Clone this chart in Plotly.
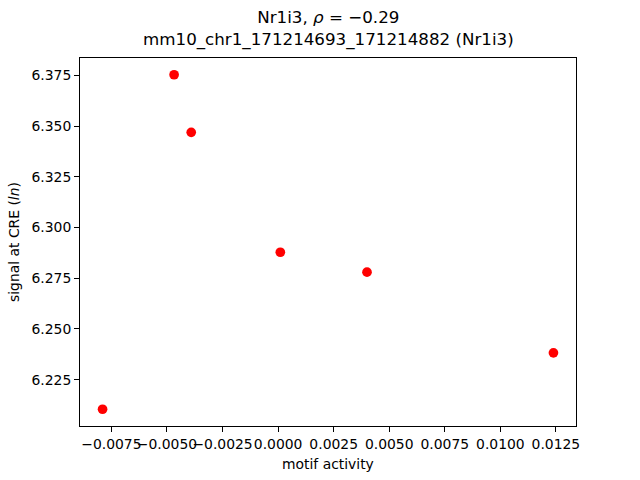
import plotly.graph_objects as go

motif_activity = [-0.0079, -0.00468, -0.00391, 0.0001, 0.0040, 0.01239]
signal = [6.2104, 6.3753, 6.3469, 6.2878, 6.2780, 6.2382]

x_ticks = [-0.0075, -0.0050, -0.0025, 0.0, 0.0025, 0.0050, 0.0075, 0.0100, 0.0125]
y_ticks = [6.225, 6.250, 6.275, 6.300, 6.325, 6.350, 6.375]
x_ticktext = [f"{v:.4f}".replace("-", "\u2212") for v in x_ticks]
y_ticktext = [f"{v:.3f}" for v in y_ticks]

title_line1 = "Nr1i3, <i>ρ</i> = \u22120.29"
title_line2 = "mm10_chr1_171214693_171214882 (Nr1i3)"
x_label = "motif activity"
y_label = "signal at CRE (<i>ln</i>)"

def padded(vals, frac=0.05):
    lo, hi = min(vals), max(vals)
    m = (hi - lo) * frac
    return [lo - m, hi + m]

FONT = "DejaVu Sans"
fig = go.Figure(go.Scatter(
    x=motif_activity, y=signal, mode="markers",
    marker=dict(color="red", size=9.7, line=dict(width=0)),
))

axis_common = dict(
    showgrid=False, zeroline=False, showline=True, linecolor="black", linewidth=1,
    mirror=True, ticks="outside", ticklen=4.9, tickwidth=1, tickcolor="black",
    tickangle=0,
    tickfont=dict(family=FONT, size=13.9, color="black"),
)
fig.update_xaxes(range=padded(motif_activity), tickvals=x_ticks, ticktext=x_ticktext, **axis_common)
fig.update_yaxes(range=padded(signal), tickvals=y_ticks, ticktext=y_ticktext, **axis_common)

fig.update_layout(
    width=640, height=480,
    margin=dict(l=80, r=64, t=57.6, b=53.5, autoexpand=False),
    plot_bgcolor="white", paper_bgcolor="white",
    showlegend=False,
    font=dict(family=FONT, color="black"),
    annotations=[
        dict(text=title_line1 + "<br>" + title_line2, xref="paper", yref="paper",
             x=0.5, y=1, yshift=6, xanchor="center", yanchor="bottom",
             showarrow=False, font=dict(family=FONT, size=16.7, color="black")),
        dict(text=x_label, xref="paper", yref="paper", x=0.5, y=0, yshift=-28,
             xanchor="center", yanchor="top", showarrow=False,
             font=dict(family=FONT, size=13.9, color="black")),
        dict(text=y_label, xref="paper", yref="paper", x=0, y=0.5, xshift=-56,
             xanchor="right", yanchor="middle", textangle=-90, showarrow=False,
             font=dict(family=FONT, size=13.9, color="black")),
    ],
)

fig.write_html("out.html", config={"displayModeBar": False},
               post_script="document.body.style.margin='0';")
